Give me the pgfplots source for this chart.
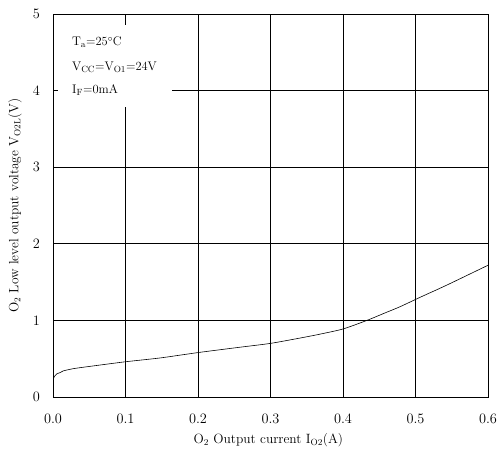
\documentclass[border=0pt]{standalone}
\usepackage{pgfplots}
\pgfplotsset{compat=1.18}
\begin{document}
\begin{tikzpicture}
\begin{axis}[
  name=ax,
  scale only axis,
  width=435bp, height=383bp,
  xmin=0, xmax=0.6, ymin=0, ymax=5,
  xtick={0,0.1,0.2,0.3,0.4,0.5,0.6},
  ytick={0,1,2,3,4,5},
  xticklabel style={/pgf/number format/fixed,/pgf/number format/fixed zerofill,/pgf/number format/precision=1,
    anchor=center, inner sep=0pt, yshift=-22bp},
  yticklabel style={anchor=east, inner sep=0pt, xshift=-13bp},
  tick label style={font=\fontsize{15}{18}\selectfont},
  xmajorgrids, ymajorgrids,
  grid style={black, line width=0.6pt},
  axis line style={black, line width=0.8pt},
  tick style={draw=none},
  xlabel={O$_2$ Output current I$_{\mathrm{O2}}$(A)},
  ylabel={O$_2$ Low level output voltage V$_{\mathrm{O2L}}$(V)},
  label style={font=\fontsize{13.5}{16}\selectfont},
  xlabel style={at={(axis description cs:0.495,-0.1123)}, anchor=center},
  ylabel style={at={(axis description cs:-0.0874,0.5)}, anchor=center, rotate=0},
]
\addplot[black, line width=0.6pt, smooth, tension=0.4] coordinates {
(0,0.22) (0.002,0.27) (0.005,0.30) (0.01,0.32) (0.014,0.34) (0.028,0.37) (0.051,0.40)
(0.1,0.46) (0.148,0.51) (0.2,0.58) (0.258,0.65) (0.3,0.70) (0.341,0.77)
(0.368,0.82) (0.4,0.888) (0.433,1.0) (0.456,1.09) (0.479,1.18) (0.506,1.30)
(0.543,1.46) (0.6,1.72)
};
\fill[white] (axis cs:0.0069,3.79) rectangle (axis cs:0.164,4.86);
\node[anchor=west, inner sep=0pt, font=\fontsize{12.5}{15}\selectfont] at (axis cs:0.0262,4.63) {T$_{\mathrm{a}}$=25$^\circ$C};
\node[anchor=west, inner sep=0pt, font=\fontsize{12.5}{15}\selectfont] at (axis cs:0.0262,4.31) {V$_{\mathrm{CC}}$=V$_{\mathrm{O1}}$=24V};
\node[anchor=west, inner sep=0pt, font=\fontsize{12.5}{15}\selectfont] at (axis cs:0.0262,4.01) {I$_{\mathrm{F}}$=0mA};
\end{axis}
\pgfresetboundingbox
\path ([shift={(-53bp,-60bp)}]ax.south west) rectangle ([shift={(10bp,14bp)}]ax.north east);
\end{tikzpicture}
\end{document}
